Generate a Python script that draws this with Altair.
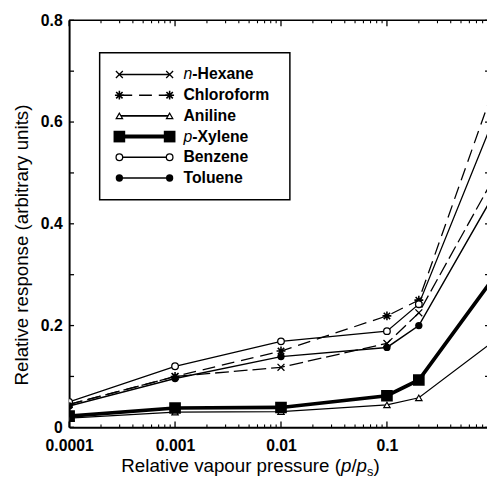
import altair as alt
import pandas as pd

# ---------------- data ----------------
pressures = [0.0001, 0.001, 0.01, 0.1, 0.2, 1.0]
names = ["n-Hexane", "Chloroform", "Aniline", "p-Xylene", "Benzene", "Toluene"]
hexane = [0.045, 0.100, 0.118, 0.165, 0.225, 0.487]
chloroform = [0.045, 0.100, 0.150, 0.219, 0.250, 0.662]
aniline = [0.018, 0.030, 0.031, 0.044, 0.058, 0.168]
pxylene = [0.022, 0.038, 0.039, 0.062, 0.093, 0.292]
benzene = [0.050, 0.120, 0.169, 0.189, 0.242, 0.602]
toluene = [0.042, 0.096, 0.139, 0.157, 0.200, 0.454]
series_values = [hexane, chloroform, aniline, pxylene, benzene, toluene]

x_label_values = [0.0001, 0.001, 0.01, 0.1]
x_minor_values = [m * d for d in [0.0001, 0.001, 0.01, 0.1] for m in range(2, 10)]
y_label_values = [0, 0.2, 0.4, 0.6, 0.8]
y_tick_values = [0, 0.1, 0.2, 0.3, 0.4, 0.5, 0.6, 0.7, 0.8]

rows = []
for n, vals in zip(names, series_values):
    for p, v in zip(pressures, vals):
        rows.append({"series": n, "x": p, "y": v})
df = pd.DataFrame(rows)

# ---------------- styling ----------------
W, H = 424, 413
FONT = "Liberation Sans"
XPATH = "M-1,-1L1,1M-1,1L1,-1"
AST = "M-1,0L1,0M0,-1L0,1M-0.72,-0.72L0.72,0.72M-0.72,0.72L0.72,-0.72"

styles = {
    "n-Hexane": dict(shape=XPATH, kind="stroke", size=49, msw=1.3, lw=1.3, dash=[14, 5], ldash=None),
    "Chloroform": dict(shape=AST, kind="stroke", size=81, msw=1.6, lw=1.3, dash=[13, 7], ldash=[13, 7]),
    "Aniline": dict(shape="triangle-up", kind="open", size=42, msw=1.2, lw=1.2, dash=None, ldash=None),
    "p-Xylene": dict(shape="square", kind="filled", size=140, msw=0, lw=3.8, dash=None, ldash=None),
    "Benzene": dict(shape="circle", kind="open", size=45, msw=1.3, lw=1.3, dash=None, ldash=None),
    "Toluene": dict(shape="circle", kind="filled", size=55, msw=0, lw=1.5, dash=None, ldash=None),
}

xscale = alt.Scale(type="log", domain=[0.0001, 0.88], nice=False)
yscale = alt.Scale(domain=[0, 0.8], nice=False, zero=True)
xaxis = alt.Axis(values=x_label_values, format="~g", grid=False, ticks=False,
                 domainWidth=2, domainColor="black", labelFont=FONT, labelFontSize=16,
                 labelFontWeight="bold", labelColor="black", labelPadding=11,
                 labelFlush=False, title=None)
yaxis = alt.Axis(values=y_label_values, format="~g", grid=False, ticks=False,
                 domainWidth=2, domainColor="black", labelFont=FONT, labelFontSize=16,
                 labelFontWeight="bold", labelColor="black", labelPadding=7, title=None)


def X(f="x"):
    return alt.X(f"{f}:Q", scale=xscale, axis=xaxis)


def Y(f="y"):
    return alt.Y(f"{f}:Q", scale=yscale, axis=yaxis)


def point_kw(st, clip=True):
    kw = dict(shape=st["shape"], size=st["size"], opacity=1, clip=clip)
    if st["kind"] == "stroke":
        kw.update(filled=False, stroke="black", strokeWidth=st["msw"])
    elif st["kind"] == "open":
        kw.update(filled=True, fill="white", stroke="black", strokeWidth=st["msw"])
    else:
        kw.update(filled=True, fill="black", strokeWidth=0)
    return kw


layers = []

# series lines and markers
for n in names:
    st = styles[n]
    lkw = dict(color="black", strokeWidth=st["lw"], clip=True)
    if st["dash"]:
        lkw["strokeDash"] = st["dash"]
    layers.append(alt.Chart(df).transform_filter(alt.datum.series == n)
                  .mark_line(**lkw).encode(x=X(), y=Y()))
for n in names:
    st = styles[n]
    layers.append(alt.Chart(df).transform_filter(alt.datum.series == n)
                  .mark_point(**point_kw(st)).encode(x=X(), y=Y()))

# tick marks (inward)
ytd = pd.DataFrame({"y": y_tick_values})
xmaj = pd.DataFrame({"x": x_label_values})
xmin = pd.DataFrame({"x": x_minor_values})
layers.append(alt.Chart(ytd).mark_rule(color="black", strokeWidth=1.3)
              .encode(y=Y(), x=alt.value(0), x2=alt.value(5)))
layers.append(alt.Chart(ytd).mark_rule(color="black", strokeWidth=1.3)
              .encode(y=Y(), x=alt.value(W - 2), x2=alt.value(W)))
layers.append(alt.Chart(xmaj).mark_rule(color="black", strokeWidth=1.3)
              .encode(x=X(), y=alt.value(H), y2=alt.value(H - 6)))
layers.append(alt.Chart(xmin).mark_rule(color="black", strokeWidth=1.1)
              .encode(x=X(), y=alt.value(H), y2=alt.value(H - 3)))
layers.append(alt.Chart(xmaj).mark_rule(color="black", strokeWidth=1.3)
              .encode(x=X(), y=alt.value(0), y2=alt.value(6)))
layers.append(alt.Chart(xmin).mark_rule(color="black", strokeWidth=1.1)
              .encode(x=X(), y=alt.value(0), y2=alt.value(3)))
one = pd.DataFrame({"a": [0]})
# top border
layers.append(alt.Chart(one).mark_rule(color="black", strokeWidth=1.6)
              .encode(x=alt.value(0), x2=alt.value(W), y=alt.value(0)))

# ---------------- legend ----------------
LX0, LX1, LY0, LY1 = 31, 224, 33, 182
layers.append(alt.Chart(one).mark_rect(fill="white", stroke="black", strokeWidth=1.5)
              .encode(x=alt.value(LX0), x2=alt.value(LX1), y=alt.value(LY0), y2=alt.value(LY1)))
row_y0, row_dy = 55, 21
mx0, mx1, tx = 51, 102, 116
for i, n in enumerate(names):
    st = styles[n]
    ry = row_y0 + i * row_dy
    d1 = pd.DataFrame({"name": [n]})
    lkw = dict(color="black", strokeWidth=max(st["lw"], 1.6) if n != "p-Xylene" else 4)
    if st["ldash"]:
        lkw["strokeDash"] = st["ldash"]
    layers.append(alt.Chart(d1).mark_rule(**lkw)
                  .encode(x=alt.value(mx0), x2=alt.value(mx1), y=alt.value(ry)))
    pm = point_kw(st, clip=False)
    for mx in (mx0, mx1):
        layers.append(alt.Chart(d1).mark_point(**pm).encode(x=alt.value(mx), y=alt.value(ry)))
    if n in ("n-Hexane", "p-Xylene"):
        layers.append(alt.Chart(d1).mark_text(text=n[0], font=FONT, fontSize=16, fontStyle="italic",
                                              align="left", baseline="middle", color="black")
                      .encode(x=alt.value(tx), y=alt.value(ry)))
        layers.append(alt.Chart(d1).mark_text(text=n[1:], font=FONT, fontSize=16, fontWeight="bold",
                                              align="left", baseline="middle", color="black")
                      .encode(x=alt.value(tx + 9), y=alt.value(ry)))
    else:
        layers.append(alt.Chart(d1).mark_text(text=n, font=FONT, fontSize=16, fontWeight="bold",
                                              align="left", baseline="middle", color="black")
                      .encode(x=alt.value(tx), y=alt.value(ry)))

# ---------------- axis titles ----------------
TFS = 19
ty = 458
tx0 = 53
pieces = [
    ("Relative vapour pressure (", tx0, ty, TFS, "normal"),
    ("p", tx0 + 222.8, ty, TFS, "italic"),
    ("/", tx0 + 233.4, ty, TFS, "normal"),
    ("p", tx0 + 238.7, ty, TFS, "italic"),
    ("s", tx0 + 249.3, ty + 4, 13, "normal"),
    (")", tx0 + 255.8, ty, TFS, "normal"),
]
for txt, px, py, fs, fst in pieces:
    layers.append(alt.Chart(one).mark_text(text=txt, font=FONT, fontSize=fs, fontStyle=fst,
                                           align="left", baseline="alphabetic", color="black")
                  .encode(x=alt.value(px), y=alt.value(py)))
layers.append(alt.Chart(one).mark_text(text="Relative response (arbitrary units)", font=FONT,
                                       fontSize=TFS, angle=270, align="center", baseline="middle",
                                       color="black")
              .encode(x=alt.value(-48), y=alt.value(228)))

chart = alt.layer(*layers).properties(
    width=W, height=H, autosize=alt.AutoSizeParams(type="none"),
    padding={"left": 62, "top": 9, "right": 0, "bottom": 52},
).configure_view(stroke=None)

chart.save("out.html", embed_options={"renderer": "svg", "actions": False})
